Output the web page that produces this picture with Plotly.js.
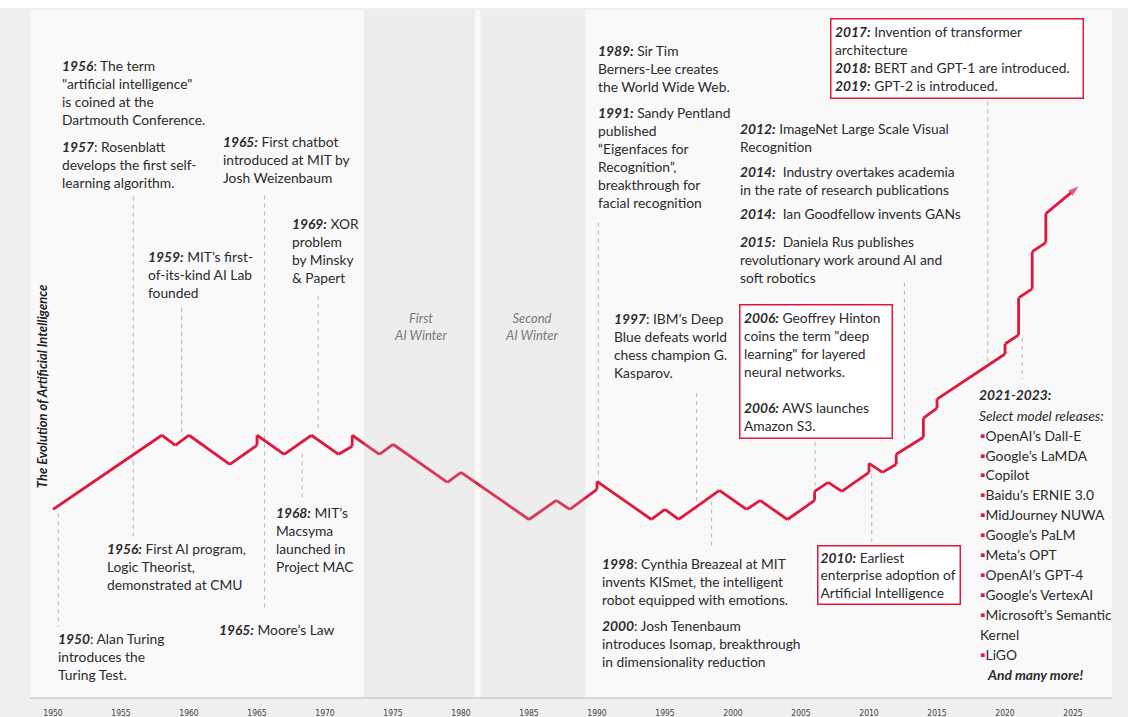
<!DOCTYPE html>
<html><head><meta charset="utf-8">
<script src="https://cdn.plot.ly/plotly-3.0.1.min.js"></script>
<style>html,body{margin:0;padding:0;background:#efefef;} #chart{width:1128px;height:717px;}</style>
</head><body><div id="chart"></div>
<script>
// ---------- DATA ----------
const years = [1950, 1958, 1959, 1960, 1963, 1965, 1965, 1967, 1969, 1971, 1972, 1972, 1974, 1975, 1979, 1980,
  1985, 1987, 1988, 1990, 1990, 1994, 1995, 1996, 1999, 2001, 2002, 2004, 2006, 2006, 2007, 2008,
  2010, 2010, 2011, 2012, 2012, 2014, 2014, 2015, 2015, 2020, 2020, 2021, 2021, 2022, 2022, 2023, 2023, 2025.4];
const progress = [187, 261, 251, 261, 232, 251, 261, 242, 261, 242, 250, 261, 242, 252, 214, 224,
  177, 196, 187, 207, 215, 177, 187, 177, 206, 187, 196, 177, 196, 205, 214, 205,
  224, 233, 224, 232, 242, 259, 278, 288, 297, 342, 352, 361, 398, 407, 444, 453, 482, 509];

const tickYears = [1950, 1955, 1960, 1965, 1970, 1975, 1980, 1985, 1990, 1995, 2000, 2005, 2010, 2015, 2020, 2025];
const tickLabels = tickYears.map(String);

const winterNames = ['First<br>AI Winter', 'Second<br>AI Winter'];
const winterStart = [1972.86, 1981.43];
const winterEnd = [1981.03, 1989.12];

const axisTitle = 'The Evolution of Artificial Intelligence';

const noteLabels = ['1956', '1957', '1965:', '1959:', '1969:', '1989:', '1991:', '2012:', '2014:', '2014:', '2015:',
  '1997', '1956:', '1968:', '1950', '1965:', '1998', '2000'];
const noteTexts = [
  ['The term', '"artificial intelligence"', 'is coined at the', 'Dartmouth Conference.'],
  ['Rosenblatt', 'develops the first self-', 'learning algorithm.'],
  ['First chatbot', 'introduced at MIT by', 'Josh Weizenbaum'],
  ['MIT’s first-', 'of-its-kind AI Lab', 'founded'],
  ['XOR', 'problem', 'by Minsky', '& Papert'],
  ['Sir Tim', 'Berners-Lee creates', 'the World Wide Web.'],
  ['Sandy Pentland', 'published', '“Eigenfaces for', 'Recognition”,', 'breakthrough for', 'facial recognition'],
  ['ImageNet Large Scale Visual', 'Recognition'],
  ['\u00a0Industry overtakes academia', 'in the rate of research publications'],
  ['\u00a0Ian Goodfellow invents GANs'],
  ['\u00a0Daniela Rus publishes', 'revolutionary work around AI and', 'soft robotics'],
  ['IBM’s Deep', 'Blue defeats world', 'chess champion G.', 'Kasparov.'],
  ['First AI program,', 'Logic Theorist,', 'demonstrated at CMU'],
  ['MIT’s', 'Macsyma', 'launched in', 'Project MAC'],
  ['Alan Turing', 'introduces the', 'Turing Test.'],
  ['Moore’s Law'],
  ['Cynthia Breazeal at MIT', 'invents KISmet, the intelligent', 'robot equipped with emotions.'],
  ['Josh Tenenbaum', 'introduces Isomap, breakthrough', 'in dimensionality reduction']
];
const boxLabels = [['2017:', '2018:', '2019:'], ['2006:', '2006:'], ['2010:']];
const boxTexts = [
  ['Invention of transformer<br>architecture', 'BERT and GPT-1 are introduced.', 'GPT-2 is introduced.'],
  ['Geoffrey Hinton<br>coins the term "deep<br>learning" for layered<br>neural networks.<br>', 'AWS launches<br>Amazon S3.'],
  ['Earliest<br>enterprise adoption of<br>Artificial Intelligence']
];
const releaseHeader = ['2021-2023:', 'Select model releases:'];
const modelReleases = ['OpenAI’s Dall-E', 'Google’s LaMDA', 'Copilot', 'Baidu’s ERNIE 3.0', 'MidJourney NUWA',
  'Google’s PaLM', 'Meta’s OPT', 'OpenAI’s GPT-4', 'Google’s VertexAI', 'Microsoft’s Semantic<br>Kernel', 'LiGO'];
const releaseFooter = 'And many more!';

// connector dashed lines (year, from, to) on the progress scale
const connectorYears = [1950.39, 1955.9, 1959.46, 1965.55, 1969.5, 1968.33, 1990.1, 1997.33, 1998.43, 2006.03, 2010.2, 2012.6, 2018.73, 2021.27];
const connectorFrom  = [183, 499, 388, 500, 400, 243, 473, 303, 195, 254, 222, 413, 594, 358];
const connectorTo    = [70, 160, 260, 87, 265, 197, 217, 192, 150, 211, 155, 252, 333, 317];

// ---------- STYLE / LAYOUT ----------
const RED = '#e0183f';
const TXT = '#2b2b2b';
const FONT = 'Lato, "Noto Sans", sans-serif';
const FS = 13.8;

const notePos = [
  [1950.59, 638.8], [1950.59, 558.8], [1962.40, 563.8], [1956.93, 448.5], [1967.48, 481.8],
  [1989.98, 653.8], [1989.98, 591.8], [2000.46, 576.8], [2000.46, 533.8], [2000.46, 491.5], [2000.46, 463.8],
  [1991.18, 386.5], [1953.88, 157.2], [1966.35, 193.8], [1950.33, 67.8], [1962.13, 77.2],
  [1990.27, 142.8], [1990.27, 80.5]
];
const boxPos = [[2007.13, 677.5, 244, 3.5], [2000.44, 392, 144, 3.5], [2006.14, 152, 136.5, 2]];

const yr = s => '<b><i>' + s + '</i></b>';
const annotations = [];

noteTexts.forEach((lines, i) => {
  const lab = noteLabels[i];
  const first = yr(lab) + (lab.endsWith(':') ? ' ' : ': ') + lines[0];
  annotations.push({
    xref: 'x', yref: 'y', x: notePos[i][0], y: notePos[i][1], xanchor: 'left', yanchor: 'top',
    text: [first].concat(lines.slice(1)).join('<br>'), showarrow: false, align: 'left',
    font: {family: FONT, size: FS, color: TXT}, borderpad: 0
  });
});

boxTexts.forEach((parts, i) => {
  const txt = parts.map((p, j) => yr(boxLabels[i][j]) + ' ' + p).join('<br>');
  annotations.push({
    xref: 'x', yref: 'y', x: boxPos[i][0], y: boxPos[i][1], xanchor: 'left', yanchor: 'top',
    text: txt, showarrow: false, align: 'left', width: boxPos[i][2],
    bgcolor: '#ffffff', bordercolor: RED, borderwidth: 1.5, borderpad: boxPos[i][3],
    font: {family: FONT, size: FS, color: TXT}
  });
});

winterNames.forEach((w, i) => {
  annotations.push({
    xref: 'x', yref: 'y', x: [1976.99, 1985.22][i], y: 387.5, xanchor: 'center', yanchor: 'top',
    text: '<i>' + w + '</i>', showarrow: false, align: 'center',
    font: {family: FONT, size: 13, color: '#7a7a7a'}
  });
});

// release list
annotations.push({xref: 'x', yref: 'y', x: 2017.95, y: 695 - 393.3, xanchor: 'left', yanchor: 'middle',
  text: yr(releaseHeader[0]), showarrow: false, font: {family: FONT, size: FS, color: TXT}});
annotations.push({xref: 'x', yref: 'y', x: 2017.95, y: 695 - 414, xanchor: 'left', yanchor: 'middle',
  text: '<i>' + releaseHeader[1] + '</i>', showarrow: false, font: {family: FONT, size: FS, color: TXT}});
let row = 0;
modelReleases.forEach(m => {
  const parts = m.split('<br>');
  parts.forEach((p, k) => {
    annotations.push({xref: 'x', yref: 'y', x: 2018.0, y: 695 - (433.8 + 19.9 * row), xanchor: 'left', yanchor: 'middle',
      text: (k === 0 ? '<span style="color:' + RED + '">▪</span>' : '') + p, showarrow: false,
      font: {family: FONT, size: FS, color: TXT}});
    row++;
  });
});
annotations.push({xref: 'x', yref: 'y', x: 2018.55, y: 695 - (433.8 + 19.9 * row), xanchor: 'left', yanchor: 'middle',
  text: yr(releaseFooter), showarrow: false, font: {family: FONT, size: FS, color: TXT}});

// axis title
annotations.push({xref: 'x', yref: 'y', x: 1949.2, y: 310, xanchor: 'center', yanchor: 'middle', textangle: -90,
  text: '<b><i>' + axisTitle + '</i></b>', showarrow: false, font: {family: FONT, size: 13, color: '#222'}});

const shapes = [];
// top white strip
shapes.push({type: 'rect', xref: 'paper', yref: 'paper', x0: -0.03, x1: 1.02, y0: 1.0029, y1: 1.02,
  fillcolor: '#ffffff', line: {width: 0}, layer: 'below'});
connectorYears.forEach((x, i) => {
  shapes.push({type: 'line', xref: 'x', yref: 'y', x0: x, x1: x, y0: connectorFrom[i], y1: connectorTo[i],
    line: {color: '#b3b3b3', width: 1, dash: '4px,4px'}, layer: 'below'});
});
winterStart.forEach((s, i) => {
  shapes.push({type: 'rect', xref: 'x', yref: 'paper', x0: s, x1: winterEnd[i], y0: 0, y1: 1,
    fillcolor: '#c0c0c0', opacity: 0.2, line: {width: 0}, layer: 'above'});
});

const sizes = years.map((_, i) => i === years.length - 1 ? 11 : 0);

const trace = {
  x: years, y: progress, type: 'scatter', mode: 'lines+markers',
  line: {color: RED, width: 2.8, shape: 'linear'},
  marker: {symbol: 'arrow', size: sizes, color: RED, angleref: 'previous', line: {width: 0}},
  hoverinfo: 'x', cliponaxis: false
};

const layout = {
  width: 1128, height: 717,
  margin: {l: 30, r: 16, t: 10, b: 20, pad: 0},
  paper_bgcolor: '#efefef', plot_bgcolor: '#f9f9f9',
  showlegend: false,
  xaxis: {range: [1948.309, 2027.868], tickvals: tickYears, ticktext: tickLabels, showgrid: false, zeroline: false,
    showline: true, linecolor: '#d6d6d6', linewidth: 2, ticks: '', ticklabelstandoff: 7,
    tickfont: {family: '"Liberation Sans Narrow", "DejaVu Sans Condensed", sans-serif', size: 8.5, color: '#444'},
    fixedrange: true},
  yaxis: {range: [0, 685], visible: false, fixedrange: true},
  annotations: annotations,
  shapes: shapes
};

Plotly.newPlot('chart', [trace], layout, {displayModeBar: false, staticPlot: true});
</script></body></html>
